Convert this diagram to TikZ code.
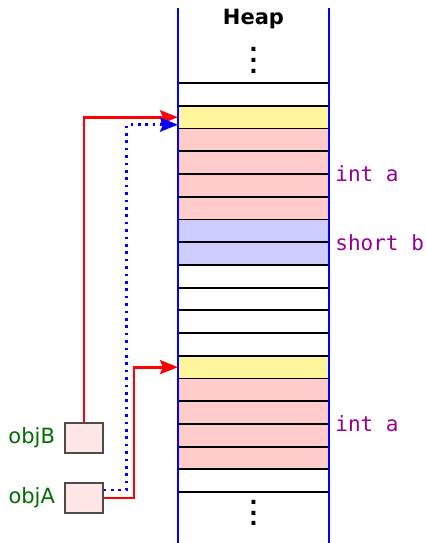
\documentclass[tikz,border=0pt]{standalone}
\usepackage{fontspec}
\setsansfont{DejaVu Sans}
\setmonofont{DejaVu Sans Mono}
\usepackage{tikz}
\usetikzlibrary{positioning}
\usetikzlibrary{arrows.meta}

\definecolor{cellyellow}{RGB}{255,245,157}
\definecolor{cellpink}{RGB}{255,204,204}
\definecolor{celllav}{RGB}{204,204,255}
\definecolor{objfill}{RGB}{255,230,230}
\definecolor{objgreen}{RGB}{0,110,0}
\definecolor{typepurple}{RGB}{150,0,150}

\tikzset{
  cell/.style={rectangle, draw, line width=0.9pt, minimum width=75.5pt,
    minimum height=11.36pt, inner sep=0pt, outer sep=0pt},
  objbox/.style={rectangle, draw=black!70, fill=objfill, line width=0.7pt,
    minimum width=19pt, minimum height=15pt, inner sep=0pt},
  objlabel/.style={text=objgreen, inner sep=1pt, font=\sffamily\fontsize{10.5}{13}\selectfont},
  typelabel/.style={text=typepurple, inner sep=1pt, font=\ttfamily\fontsize{10.5}{12}\selectfont, anchor=west},
  dotnode/.style={inner sep=0pt, anchor=base, font=\sffamily\bfseries\fontsize{11}{12}\selectfont},
  redptr/.style={draw=red, line width=1.4pt, -{Stealth[length=9pt,width=7pt,inset=1.5pt]}},
  blueptr/.style={draw=blue, line width=1.3pt, dash pattern=on 1.3pt off 2.4pt, -{Stealth[length=9pt,width=7pt,inset=1.5pt]}}
}

\begin{document}
\begin{tikzpicture}
  \useasboundingbox (0,0) rectangle (213pt,-271.5pt);

  \node(heap) at (126.75pt,-9.3pt) {\sffamily\bfseries\fontsize{10.5}{12}\selectfont Heap};
  \node(dotstop1)[dotnode] at (126.75pt,-25.8pt) {.};
  \node(dotstop2)[dotnode] at (126.75pt,-31.2pt) {.};
  \node(dotstop3)[dotnode] at (126.75pt,-36.5pt) {.};

  \node(r0)[cell] at (126.75pt,-47.25pt) {};
  \node(r1)[cell, fill=cellyellow, below=0pt of r0] {};
  \node(r2)[cell, fill=cellpink, below=0pt of r1] {};
  \node(r3)[cell, fill=cellpink, below=0pt of r2] {};
  \node(r4)[cell, fill=cellpink, below=0pt of r3] {};
  \node(r5)[cell, fill=cellpink, below=0pt of r4] {};
  \node(r6)[cell, fill=celllav, below=0pt of r5] {};
  \node(r7)[cell, fill=celllav, below=0pt of r6] {};
  \node(r8)[cell, below=0pt of r7] {};
  \node(r9)[cell, below=0pt of r8] {};
  \node(r10)[cell, below=0pt of r9] {};
  \node(r11)[cell, below=0pt of r10] {};
  \node(r12)[cell, fill=cellyellow, below=0pt of r11] {};
  \node(r13)[cell, fill=cellpink, below=0pt of r12] {};
  \node(r14)[cell, fill=cellpink, below=0pt of r13] {};
  \node(r15)[cell, fill=cellpink, below=0pt of r14] {};
  \node(r16)[cell, fill=cellpink, below=0pt of r15] {};
  \node(r17)[cell, below=0pt of r16] {};

  \node(dotsbot1)[dotnode] at (126.75pt,-252.3pt) {.};
  \node(dotsbot2)[dotnode] at (126.75pt,-257.7pt) {.};
  \node(dotsbot3)[dotnode] at (126.75pt,-262.8pt) {.};

  % heap walls
  \coordinate(wallltop) at (89pt,-4pt);
  \coordinate(walllbot) at (89pt,-271.5pt);
  \coordinate(wallrtop) at (164.5pt,-4pt);
  \coordinate(wallrbot) at (164.5pt,-271.5pt);
  \draw[blue, line width=1pt](wallltop)--(walllbot);
  \draw[blue, line width=1pt](wallrtop)--(wallrbot);

  \node(inta1)[typelabel, right=2pt of r4.north east] {int a};
  \node(shortb)[typelabel, right=2pt of r7.north east] {short b};
  \node(inta2)[typelabel, right=2pt of r15.north east] {int a};

  \node(objB)[objbox] at (42pt,-219pt) {};
  \node(objA)[objbox] at (42pt,-249pt) {};
  \node(objBlabel)[objlabel, left=3.5pt of objB] {objB};
  \node(objAlabel)[objlabel, left=3.5pt of objA] {objA};

  \draw[redptr](objB.north) |- (r1.west);
  \draw[blueptr]([yshift=4pt]objA.east) -- ++(11.5pt,0) |- ([yshift=-3.75pt]r1.west);
  \draw[redptr](objA.east) -- ++(15.2pt,0) |- (r12.west);

\end{tikzpicture}
\end{document}
